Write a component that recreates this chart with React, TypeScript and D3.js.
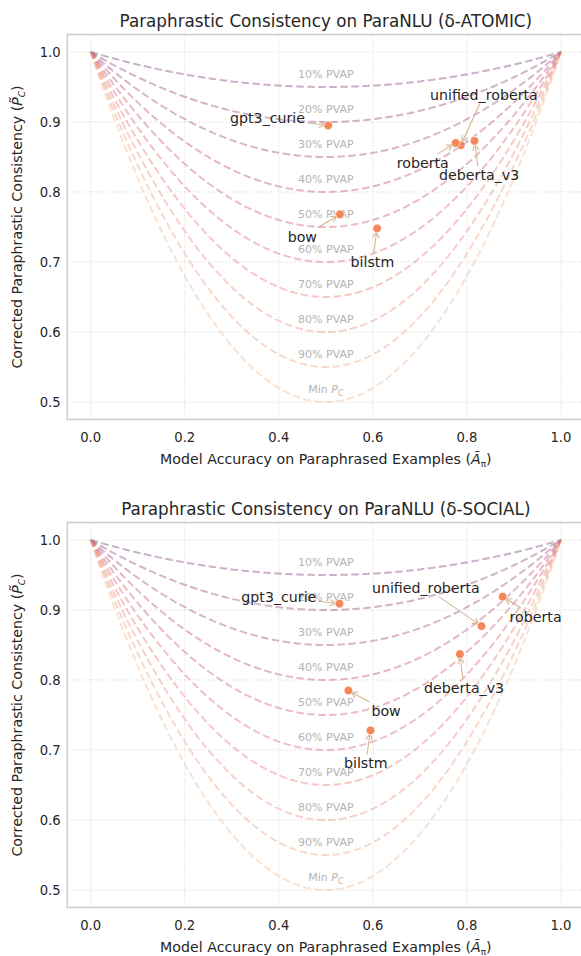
import { useEffect, useRef } from "react";
import * as d3 from "d3";

// iso-PVAP reference curves: depth of each curve at accuracy 0.5
const pvapLevels = [0.1, 0.2, 0.3, 0.4, 0.5, 0.6, 0.7, 0.8, 0.9, 1.0];
const pvapLabels = ["10% PVAP", "20% PVAP", "30% PVAP", "40% PVAP", "50% PVAP", "60% PVAP", "70% PVAP", "80% PVAP", "90% PVAP", "Min"];

const xTicks = [0, 0.2, 0.4, 0.6, 0.8, 1.0];
const yTicks = [0.5, 0.6, 0.7, 0.8, 0.9, 1.0];

const modelNames = ["gpt3_curie", "unified_roberta", "roberta", "deberta_v3", "bow", "bilstm"];

// δ-ATOMIC
const atomicAcc = [0.505, 0.787, 0.776, 0.816, 0.53, 0.609];
const atomicPc = [0.895, 0.867, 0.87, 0.873, 0.768, 0.748];
const atomicTextX = [0.376, 0.836, 0.706, 0.826, 0.45, 0.599];
const atomicTextY = [0.906, 0.939, 0.842, 0.824, 0.736, 0.7];

// δ-SOCIAL
const socialAcc = [0.529, 0.831, 0.876, 0.785, 0.548, 0.595];
const socialPc = [0.909, 0.877, 0.919, 0.837, 0.785, 0.728];
const socialTextX = [0.4, 0.7125, 0.946, 0.794, 0.628, 0.585];
const socialTextY = [0.919, 0.932, 0.89, 0.788, 0.756, 0.681];

const flare = ["#edb081", "#e98d6b", "#e3685c", "#d14a61", "#b13c6c", "#8f3371", "#6c2b6d"];
const FONT = "DejaVu Sans, Verdana, sans-serif";

const drawPanel = (g, title, acc, pc, tx, ty, idx) => {
  const x = d3.scaleLinear().domain([-0.05, 1.05]).range([67.2, 584.5]);
  const y = d3.scaleLinear().domain([0.475, 1.025]).range([419.5, 34.5]);
  const colorAt = d3.interpolateRgbBasis(flare);

  // grid
  g.selectAll(".gx")
    .data(xTicks)
    .enter()
    .append("line")
    .attr("x1", (d) => x(d))
    .attr("x2", (d) => x(d))
    .attr("y1", y.range()[0])
    .attr("y2", y.range()[1])
    .attr("stroke", "#cfcfcf")
    .attr("stroke-width", 0.9)
    .attr("stroke-dasharray", "1,2");
  g.selectAll(".gy")
    .data(yTicks)
    .enter()
    .append("line")
    .attr("x1", x.range()[0])
    .attr("x2", x.range()[1])
    .attr("y1", (d) => y(d))
    .attr("y2", (d) => y(d))
    .attr("stroke", "#cfcfcf")
    .attr("stroke-width", 0.9)
    .attr("stroke-dasharray", "1,2");

  // curves
  const xs = d3.range(0, 1.0001, 0.005);
  const line = d3
    .line()
    .x((d) => x(d[0]))
    .y((d) => y(d[1]));
  pvapLevels.forEach((lv, i) => {
    const pts = xs.map((a) => [a, 1 - 2 * lv * a * (1 - a)]);
    g.append("path")
      .attr("d", line(pts))
      .attr("fill", "none")
      .attr("stroke", colorAt(1 - i / (pvapLevels.length - 1)))
      .attr("stroke-opacity", 0.37)
      .attr("stroke-width", 2)
      .attr("stroke-dasharray", "7.5,3.5");
  });

  // curve labels
  pvapLevels.forEach((lv, i) => {
    const t = g
      .append("text")
      .attr("x", x(0.5))
      .attr("y", y(1 - lv / 2) - 9)
      .attr("text-anchor", "middle")
      .attr("font-size", 11)
      .attr("fill", "#b3b3b3");
    if (i < pvapLevels.length - 1) {
      t.text(pvapLabels[i]);
    } else {
      t.append("tspan").text(pvapLabels[i] + " ");
      t.append("tspan").attr("font-style", "italic").text("P");
      t.append("tspan").attr("font-style", "italic").attr("font-size", 8).attr("dy", 3).text("C");
    }
  });

  // annotations: text measured first, then arrow from its box to the point
  const arrows = g.append("g");
  const dots = g.append("g");
  const labels = g.append("g");
  modelNames.forEach((name, i) => {
    const cx = x(tx[i]);
    const cy = y(ty[i]);
    const px = x(acc[i]);
    const py = y(pc[i]);
    const t = labels
      .append("text")
      .attr("x", cx)
      .attr("y", cy)
      .attr("dy", "0.35em")
      .attr("text-anchor", "middle")
      .attr("font-size", 14.2)
      .attr("fill", "#262626")
      .text(name);
    const bb = t.node().getBBox();
    const hw = bb.width / 2 + 2;
    const hh = bb.height / 2 + 1;
    const dx = px - cx;
    const dy = py - cy;
    const len = Math.hypot(dx, dy);
    const s = Math.min(Math.abs(dx) > 0 ? hw / Math.abs(dx) : Infinity, Math.abs(dy) > 0 ? hh / Math.abs(dy) : Infinity);
    const sx = cx + dx * s;
    const sy = cy + dy * s;
    const ex = px - (dx / len) * 3.5;
    const ey = py - (dy / len) * 3.5;
    arrows
      .append("line")
      .attr("x1", sx)
      .attr("y1", sy)
      .attr("x2", ex)
      .attr("y2", ey)
      .attr("stroke", "#d4b595")
      .attr("stroke-width", 1.1)
      .attr("marker-end", `url(#arr${idx})`);
    dots
      .append("circle")
      .attr("cx", px)
      .attr("cy", py)
      .attr("r", 4.4)
      .attr("fill", "#f5885a")
      .attr("stroke", "white")
      .attr("stroke-width", 0.8);
  });

  // spines (right one falls outside the picture)
  const [x0, x1] = x.range();
  const [yb, yt] = y.range();
  g.append("path")
    .attr("d", `M${x1},${yt}H${x0}V${yb}H${x1}`)
    .attr("fill", "none")
    .attr("stroke", "#cccccc")
    .attr("stroke-width", 1.4);

  // ticks
  g.selectAll(".tx")
    .data(xTicks)
    .enter()
    .append("text")
    .attr("x", (d) => x(d))
    .attr("y", yb + 22)
    .attr("text-anchor", "middle")
    .attr("font-size", 13.2)
    .attr("fill", "#262626")
    .text((d) => d.toFixed(1));
  g.selectAll(".ty")
    .data(yTicks)
    .enter()
    .append("text")
    .attr("x", x0 - 6.5)
    .attr("y", (d) => y(d))
    .attr("dy", "0.35em")
    .attr("text-anchor", "end")
    .attr("font-size", 13.2)
    .attr("fill", "#262626")
    .text((d) => d.toFixed(1));

  // axis labels
  const xl = g
    .append("text")
    .attr("x", (x0 + x1) / 2)
    .attr("y", yb + 44)
    .attr("text-anchor", "middle")
    .attr("font-size", 14.2)
    .attr("fill", "#262626");
  xl.append("tspan").text("Model Accuracy on Paraphrased Examples (");
  xl.append("tspan").attr("font-style", "italic").text("A\u0303");
  xl.append("tspan").attr("font-size", 9).attr("dy", 3).text("π");
  xl.append("tspan").attr("dy", -3).text(")");

  const yl = g
    .append("text")
    .attr("transform", `translate(22,${(yb + yt) / 2}) rotate(-90)`)
    .attr("text-anchor", "middle")
    .attr("font-size", 14.2)
    .attr("fill", "#262626");
  yl.append("tspan").text("Corrected Paraphrastic Consistency (");
  yl.append("tspan").attr("font-style", "italic").text("P\u0303");
  yl.append("tspan").attr("font-style", "italic").attr("font-size", 9).attr("dy", 3).text("C");
  yl.append("tspan").attr("dy", -3).text(")");

  g.append("text")
    .attr("x", (x0 + x1) / 2)
    .attr("y", 27)
    .attr("text-anchor", "middle")
    .attr("font-size", 16.8)
    .attr("fill", "#262626")
    .text(title);
};

export default function App() {
  const ref = useRef(null);

  useEffect(() => {
    const svg = d3.select(ref.current);
    svg.selectAll("*").remove();
    svg.attr("font-family", FONT);
    const defs = svg.append("defs");
    [0, 1].forEach((k) => {
      defs
        .append("marker")
        .attr("id", `arr${k}`)
        .attr("viewBox", "-8 -5 10 10")
        .attr("refX", 0)
        .attr("refY", 0)
        .attr("markerWidth", 10)
        .attr("markerHeight", 10)
        .attr("markerUnits", "userSpaceOnUse")
        .attr("orient", "auto")
        .append("path")
        .attr("d", "M-6,-3.2L0,0L-6,3.2")
        .attr("fill", "none")
        .attr("stroke", "#d4b595")
        .attr("stroke-width", 1.1);
    });
    const g1 = svg.append("g");
    drawPanel(g1, "Paraphrastic Consistency on ParaNLU (δ-ATOMIC)", atomicAcc, atomicPc, atomicTextX, atomicTextY, 0);
    const g2 = svg.append("g").attr("transform", "translate(0,488)");
    drawPanel(g2, "Paraphrastic Consistency on ParaNLU (δ-SOCIAL)", socialAcc, socialPc, socialTextX, socialTextY, 1);
  }, []);

  return (
    <svg
      ref={ref}
      width={581}
      height={956}
      style={{ position: "absolute", left: 0, top: 0, background: "white" }}
    />
  );
}
